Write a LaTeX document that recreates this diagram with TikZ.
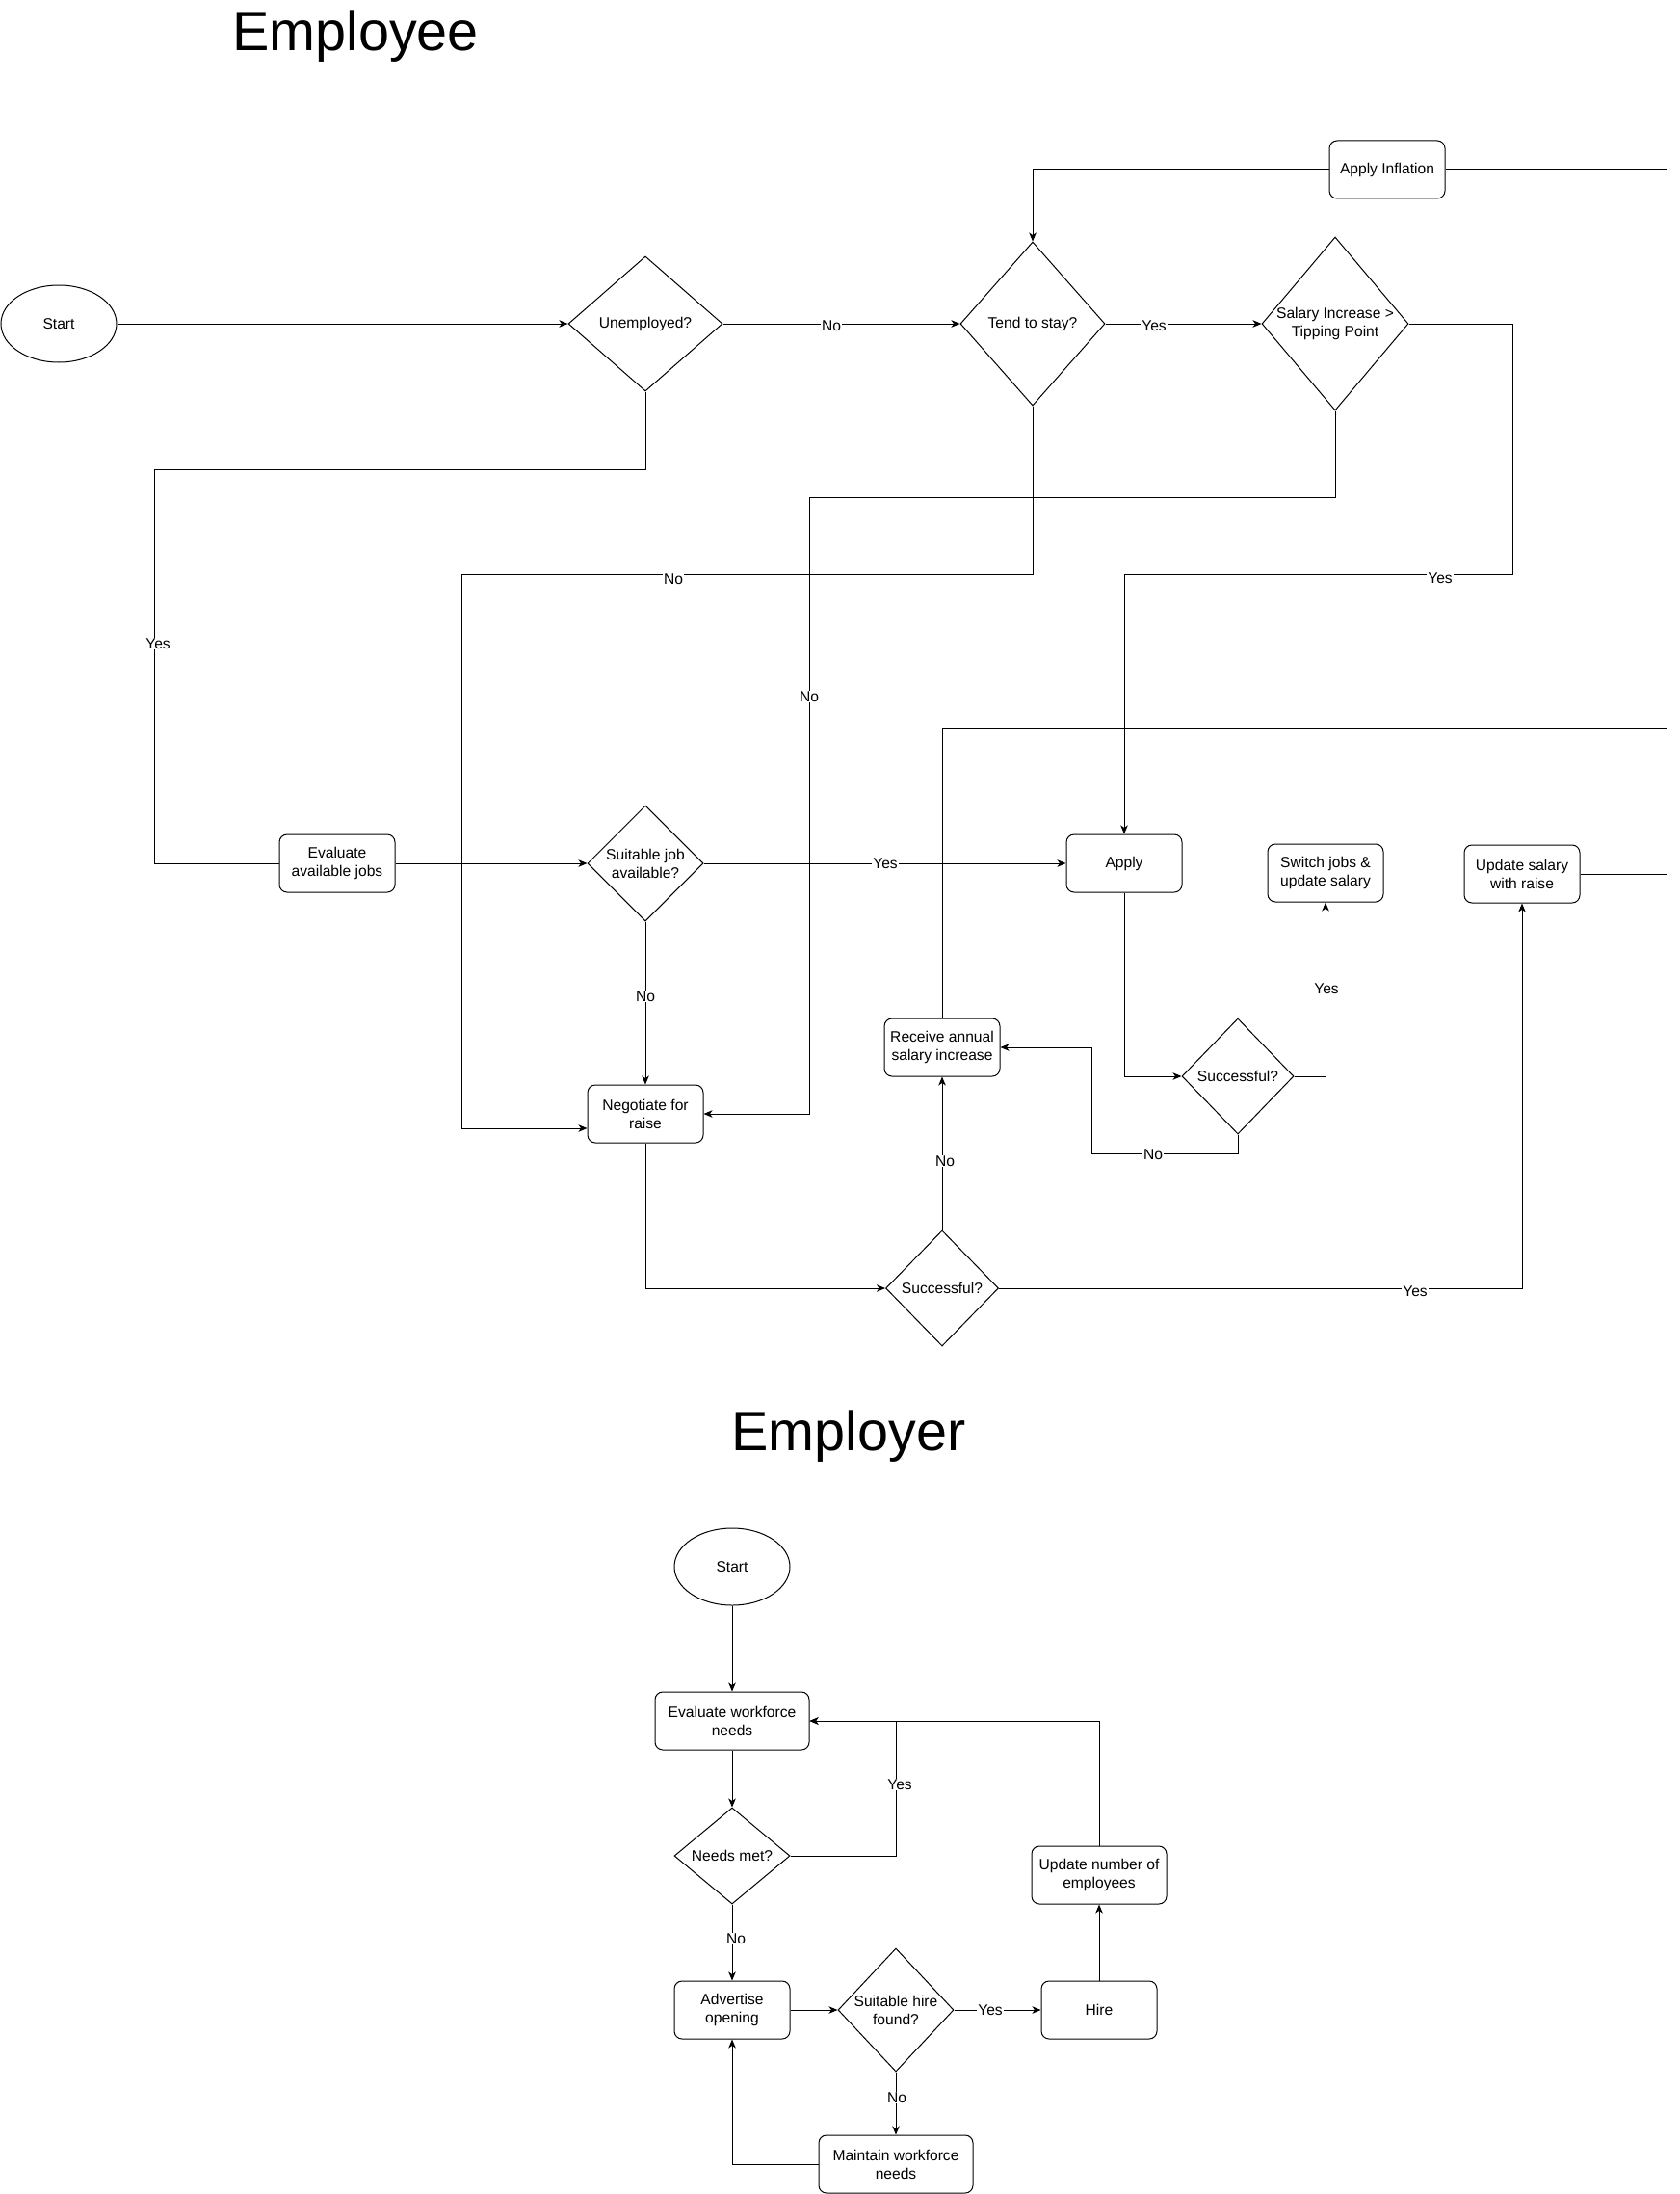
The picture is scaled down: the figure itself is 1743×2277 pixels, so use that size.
\documentclass[tikz,border=0pt]{standalone}
\usepackage{fontspec}
\setmainfont{Liberation Sans}
\usetikzlibrary{shapes.geometric,arrows.meta}

\tikzset{
  every node/.style={font=\fontsize{15.6}{19}\selectfont},
  box/.style={draw, line width=1pt, rounded corners=8pt, minimum width=120pt,
    minimum height=60pt, align=center, inner sep=2pt},
  oval/.style={draw, line width=1pt, ellipse, minimum width=120pt, minimum height=80pt, inner sep=0pt},
  dia/.style={draw, line width=1pt, diamond, inner sep=0pt},
  diatext/.style={align=center, inner sep=0pt},
  flow/.style={draw, line width=1pt, -{Stealth[length=9pt,width=7.5pt,inset=2.5pt]}},
  link/.style={draw, line width=1pt},
  lbl/.style={fill=white, inner sep=1pt},
  ttl/.style={font=\fontsize{57.5}{69}\selectfont, anchor=base, inner sep=0pt},
}

\begin{document}
\begin{tikzpicture}[x=1pt, y=-1pt]
  \fill[white] (0,0) rectangle (1743,2277);
  \useasboundingbox (0,0) rectangle (1743,2277);

  % ---------------- Employee ----------------
  \node[ttl] (ttlA) at (369,53) {Employee};

  \node[oval] (startA) at (61,336) {Start};
  \node[dia, minimum width=160pt, minimum height=140pt,
        label={[diatext]center:Unemployed?}] (unemp) at (670,336) {};
  \node[dia, minimum width=150pt, minimum height=170pt,
        label={[diatext]center:Tend to stay?}] (tend) at (1072,336) {};
  \node[dia, minimum width=152pt, minimum height=180pt,
        label={[diatext]center:{Salary Increase >\\Tipping Point}}] (tip) at (1386,336) {};
  \node[box] (infl) at (1440,176) {Apply Inflation};

  \node[box] (evjobs) at (350,896) {Evaluate\\available jobs};
  \node[dia, minimum width=120pt, minimum height=120pt,
        label={[diatext]center:{Suitable job\\available?}}] (suit) at (670,896) {};
  \node[box] (nego) at (670,1156) {Negotiate for\\raise};
  \node[box] (apply) at (1167,896) {Apply};
  \node[box] (switch) at (1376,906) {Switch jobs \&\\update salary};
  \node[box] (upd) at (1580,907) {Update salary\\with raise};
  \node[box] (recv) at (978,1087) {Receive annual\\salary increase};
  \node[dia, minimum width=116pt, minimum height=120pt,
        label={[diatext]center:Successful?}] (succB) at (1285,1117) {};
  \node[dia, minimum width=117pt, minimum height=120pt,
        label={[diatext]center:Successful?}] (succA) at (978,1337) {};

  % bend points
  \coordinate (bTipYes) at (1570,596);
  \coordinate (bTipNo)  at (840,516);
  \coordinate (bTendNo) at (479,596);
  \coordinate (bUnYes)  at (160,487);
  \coordinate (bBackL)  at (978,756);
  \coordinate (bBackR)  at (1730,756);
  \coordinate (bRight)  at (1730,907);
  \coordinate (bNoLoop) at (1133,1197);

  \draw[flow] (startA.east) -- (unemp.west);
  \draw[flow] (unemp.east) -- (tend.west);
  \draw[flow] (tend.east) -- (tip.west);
  \draw[flow] (infl.west) -| (tend.north);
  \draw[flow] (tip.east) -| (bTipYes) -| (apply.north);
  \draw[flow] (tip.south) |- (bTipNo) |- (nego.east);
  \draw[flow] (tend.south) |- (bTendNo) |- ([yshift=-15pt]nego.west);
  \draw[link] (unemp.south) |- (bUnYes) |- (evjobs.west);
  \draw[flow] (evjobs.east) -- (suit.west);
  \draw[flow] (suit.east) -- (apply.west);
  \draw[flow] (suit.south) -- (nego.north);
  \draw[flow] (nego.south) |- (succA.west);
  \draw[flow] (succA.north) -- (recv.south);
  \draw[flow] (succA.east) -| (upd.south);
  \draw[flow] (apply.south) |- (succB.west);
  \draw[flow] (succB.east) -| (switch.south);
  \draw[flow] (succB.south) |- (bNoLoop) |- (recv.east);
  \draw[link] (recv.north) |- (bBackR);
  \draw[link] (switch.north) -- (switch.north |- bBackL);
  \draw[link] (upd.east) -- (bRight) |- (infl.east);

  % edge labels
  \node[lbl] (lA1) at (863,338) {No};
  \node[lbl] (lA2) at (1198,338) {Yes};
  \node[lbl] (lA3) at (1495,600) {Yes};
  \node[lbl] (lA4) at (840,723) {No};
  \node[lbl] (lA5) at (699,601) {No};
  \node[lbl] (lA6) at (164,668) {Yes};
  \node[lbl] (lA7) at (919,896) {Yes};
  \node[lbl] (lA8) at (670,1034) {No};
  \node[lbl] (lA9) at (981,1205) {No};
  \node[lbl] (lA10) at (1469,1340) {Yes};
  \node[lbl] (lA11) at (1377,1026) {Yes};
  \node[lbl] (lA12) at (1197,1198) {No};

  % ---------------- Employer ----------------
  \node[ttl] (ttlB) at (881,1505) {Employer};

  \node[oval] (startB) at (760,1626) {Start};
  \node[box, minimum width=160pt] (evwf) at (760,1786) {Evaluate workforce\\needs};
  \node[dia, minimum width=120pt, minimum height=100pt,
        label={[diatext]center:Needs met?}] (met) at (760,1926) {};
  \node[box] (advert) at (760,2086) {Advertise\\opening};
  \node[dia, minimum width=120pt, minimum height=128pt,
        label={[diatext]center:{Suitable hire\\found?}}] (hireq) at (930,2086) {};
  \node[box] (hire) at (1141,2086) {Hire};
  \node[box, minimum width=140pt] (count) at (1141,1946) {Update number of\\employees};
  \node[box, minimum width=160pt] (keep) at (930,2246) {Maintain workforce\\needs};

  \coordinate (bMetYes) at (930,1786);

  \draw[flow] (startB.south) -- (evwf.north);
  \draw[flow] (evwf.south) -- (met.north);
  \draw[flow] (met.east) -| (bMetYes) -- (evwf.east);
  \draw[flow] (count.north) |- (evwf.east);
  \draw[flow] (met.south) -- (advert.north);
  \draw[flow] (advert.east) -- (hireq.west);
  \draw[flow] (hireq.east) -- (hire.west);
  \draw[flow] (hire.north) -- (count.south);
  \draw[flow] (hireq.south) -- (keep.north);
  \draw[flow] (keep.west) -| (advert.south);

  \node[lbl] (lB1) at (934,1852) {Yes};
  \node[lbl] (lB2) at (764,2012) {No};
  \node[lbl] (lB3) at (1028,2086) {Yes};
  \node[lbl] (lB4) at (931,2177) {No};
\end{tikzpicture}
\end{document}
